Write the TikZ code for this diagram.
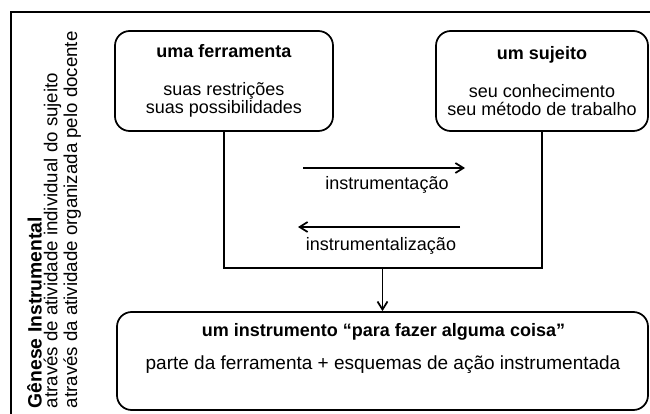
\documentclass[tikz,border=0pt]{standalone}
\usepackage{fontspec}
\setmainfont{Liberation Sans}
\usetikzlibrary{arrows.meta}

\tikzset{
  caixa/.style={draw, line width=1.3pt, rounded corners=11pt, align=center, inner sep=0pt,
    font=\fontsize{13.5}{13.5}\selectfont},
  rotulo/.style={inner sep=0pt, font=\fontsize{13.5}{13.5}\selectfont},
  vertical/.style={rotulo, rotate=90, anchor=base west, font=\fontsize{14}{14}\selectfont},
}

\begin{document}
\begin{tikzpicture}[x=0.75pt, y=-0.75pt, line width=1.3pt,
    >={Straight Barb[length=6pt,width=7.5pt]}]
  \clip (0,0) rectangle (650,414);

  % moldura
  \draw (11,12) rectangle (680,450);

  % Genese (texto vertical)
  \node[vertical, font=\fontsize{14.5}{14.5}\selectfont\bfseries] (genese) at (41.5,409) {Gênese Instrumental};
  \node[vertical] (geneseind) at (57.5,409) {através de atividade individual do sujeito};
  \node[vertical] (genesedoc) at (77,409) {através da atividade organizada pelo docente};

  % ferramenta e sujeito
  \node[caixa, minimum width=163.5pt, minimum height=75pt] (ferramenta) at (224,81)
    {\textbf{uma ferramenta}\\[15pt] suas restrições\\ suas possibilidades};
  \node[caixa, minimum width=159pt, minimum height=75pt] (sujeito) at (542,81)
    {\textbf{um sujeito}\\[15pt] seu conhecimento\\ seu método de trabalho};

  % setas do meio
  \coordinate (ida1) at (303,168);
  \coordinate (ida2) at (465,168);
  \draw[->] (ida1) -- (ida2);
  \node[rotulo, anchor=base] (instrumentacao) at (387,189) {instrumentação};

  \coordinate (volta1) at (460,227);
  \coordinate (volta2) at (298,227);
  \draw[->] (volta1) -- (volta2);
  \node[rotulo, anchor=base] (instrumentalizacao) at (381,250) {instrumentalização};

  % instrumento
  \node[caixa, minimum width=398.25pt, minimum height=73.5pt] (instr) at (382.5,361) {};
  \node[rotulo, anchor=base, font=\fontsize{13.5}{13.5}\selectfont\bfseries] (instrtitulo) at (383.5,336)
    {um instrumento “para fazer alguma coisa”};
  \node[rotulo, anchor=base, font=\fontsize{14.25}{14.25}\selectfont] (instrtexto) at (383,369)
    {parte da ferramenta + esquemas de ação instrumentada};

  % ligacoes
  \coordinate (juncao) at (382.5,268);
  \draw (ferramenta.south) |- (juncao) -| (sujeito.south);
  \draw[->] (juncao) -- (instr.north);
\end{tikzpicture}
\end{document}
